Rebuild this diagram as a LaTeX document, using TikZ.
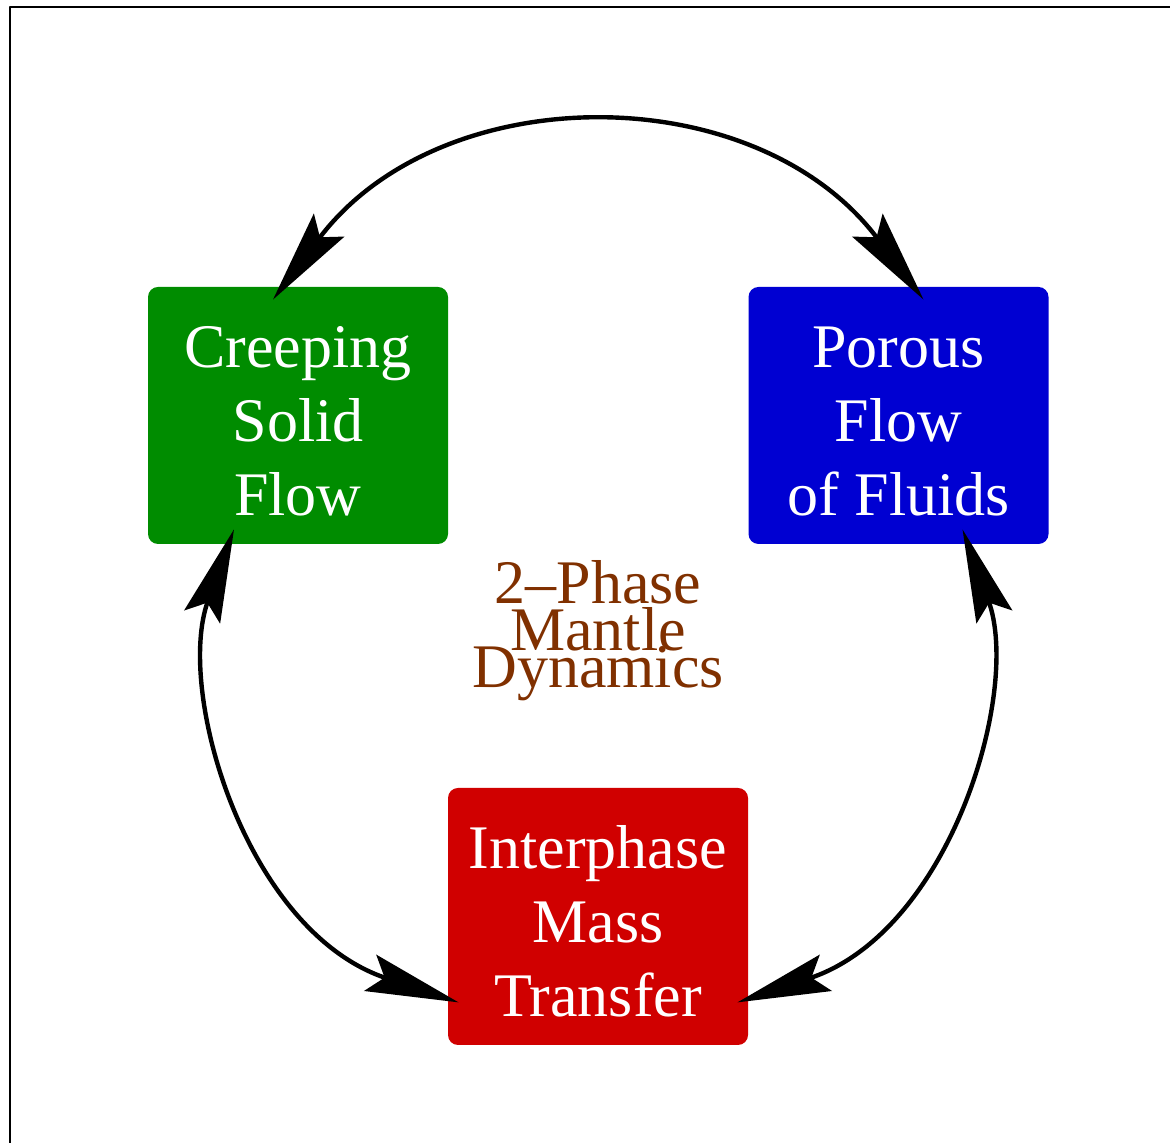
\documentclass[tikz,border=0pt]{standalone}
\usepackage{fontspec}
\setmainfont{Liberation Serif}
\usetikzlibrary{arrows.meta}
\definecolor{solidgreen}{RGB}{0,140,0}
\definecolor{fluidblue}{RGB}{0,0,210}
\definecolor{massred}{RGB}{208,0,0}
\definecolor{mantlebrown}{RGB}{128,48,0}
\newcommand\toprule{\rule{0pt}{26pt}}
\tikzset{
	topic/.style={rectangle, rounded corners=5pt, fill=#1, text=white, align=center,
		minimum width=150pt, minimum height=128.5pt, inner sep=0pt,
		font=\fontsize{31}{37}\selectfont},
	link/.style={line width=2.2pt, {Stealth[length=46.5pt, width=19pt, inset=7.5pt]}-{Stealth[length=46.5pt, width=19pt, inset=7.5pt]}}
}
\begin{document}
\begin{tikzpicture}[x=0.5pt, y=0.5pt, line join=round, line cap=round]
				\useasboundingbox (0,0) rectangle (1170,1143);
				\draw[line width=1pt] (10,0) |- (1170,1136);
				\node[topic=solidgreen] (creep) at (298,727.5) {\toprule Creeping\\Solid\\Flow};
				\node[topic=fluidblue] (porous) at (898.5,727.5) {\toprule Porous\\Flow\\of Fluids};
				\node[topic=massred] (mass) at (598,226.5) {\toprule Interphase\\Mass\\Transfer};
				\node[text=mantlebrown, align=center, inner sep=0pt, font=\fontsize{31}{23.5}\selectfont] (dyn) at (598,512) {2--Phase\\Mantle\\[-5pt]Dynamics};
				\path ([shift={(-25,-13)}]creep.north) coordinate (T1)
				([shift={(25,-13)}]porous.north) coordinate (T2)
				([shift={(-64,15)}]creep.south) coordinate (L1)
				([shift={(11,43)}]mass.south west) coordinate (L2)
				([shift={(64,15)}]porous.south) coordinate (R1)
				([shift={(-11,43)}]mass.south east) coordinate (R2);
				\draw[link] (T1) to[out=53, in=127, looseness=1.1] (T2);
				\draw[link] (L1) to[out=250, in=161.5, out looseness=0.84, in looseness=1.1] (L2);
				\draw[link] (R1) to[out=290, in=18.5, out looseness=0.84, in looseness=1.1] (R2);
	\end{tikzpicture}
\end{document}
